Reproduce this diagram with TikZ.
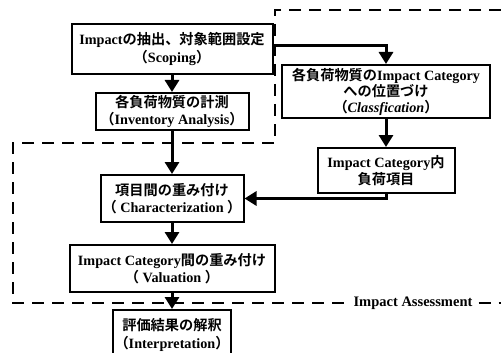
\documentclass[tikz,border=0pt]{standalone}
\usepackage{fontspec}
\setmainfont{Liberation Serif}
\newfontfamily\jp{Noto Sans CJK JP}[BoldFont={Noto Sans CJK JP Bold}]
\usetikzlibrary{arrows.meta}
\newcommand{\J}[1]{{\jp #1}}

\begin{document}
\begin{tikzpicture}[x=1pt,y=-1pt,
    stagebox/.style={rectangle,draw=black,line width=2pt,align=center,inner sep=1pt,font=\fontsize{14.2}{17.5}\selectfont\bfseries},
    flow/.style={line width=3pt,-{Triangle[length=12pt,width=14pt]}},
    region/.style={line width=2.8pt,dash pattern=on 12pt off 8pt}]

      \useasboundingbox (0,0) rectangle (501,353);

      \node[stagebox,minimum width=201pt,minimum height=50pt] (scope) at (172,49) {Impact\J{の抽出、対象範囲設定}\\\J{（}Scoping\J{）}};
      \node[stagebox,minimum width=153pt,minimum height=37pt] (inv) at (172,111.5) {\J{各負荷物質の計測}\\\J{（}Inventory Analysis\J{）}};
      \node[stagebox,minimum width=208pt,minimum height=53pt,font=\fontsize{14.2}{16}\selectfont\bfseries] (class) at (386,91.5) {\J{各負荷物質の}Impact Category\\\J{への位置づけ}\\\J{（}{\itshape Classfication}\J{）}};
      \node[stagebox,minimum width=137pt,minimum height=45pt] (cat) at (386,170.5) {Impact Category\J{内}\\\J{負荷項目}};
      \node[stagebox,minimum width=143pt,minimum height=47pt] (charac) at (172,198.5) {\J{項目間の重み付け}\\\J{（} Characterization \J{）}};
      \node[stagebox,minimum width=205pt,minimum height=47pt] (valu) at (172,268.5) {Impact Category\J{間の重み付け}\\\J{（} Valuation \J{）}};
      \node[stagebox,minimum width=118pt,minimum height=50pt] (interp) at (172,335) {\J{評価結果の解釈}\\\J{（}Interpretation\J{）}};
      \node[font=\fontsize{14.5}{16}\selectfont\bfseries,inner sep=6pt] (ia) at (413,303) {Impact Assessment};

      % impact assessment region
      \draw[region] (501,10) -- (275,10) -- (275,143) -- (13,143) -- (13,303) -- (ia.west);
      \draw[region] (ia.east) -- (501,303);

      \draw[flow] (scope) -- (inv);
      \draw[flow] (inv) -- (charac);
      \draw[flow] ([yshift=3pt]scope.east) -| (class.north);
      \draw[flow] (class) -- (cat);
      \draw[flow] (cat.south) |- (charac.east);
      \draw[flow] (charac) -- (valu);
      \draw[flow] (valu) -- (interp);

    \end{tikzpicture}
\end{document}
